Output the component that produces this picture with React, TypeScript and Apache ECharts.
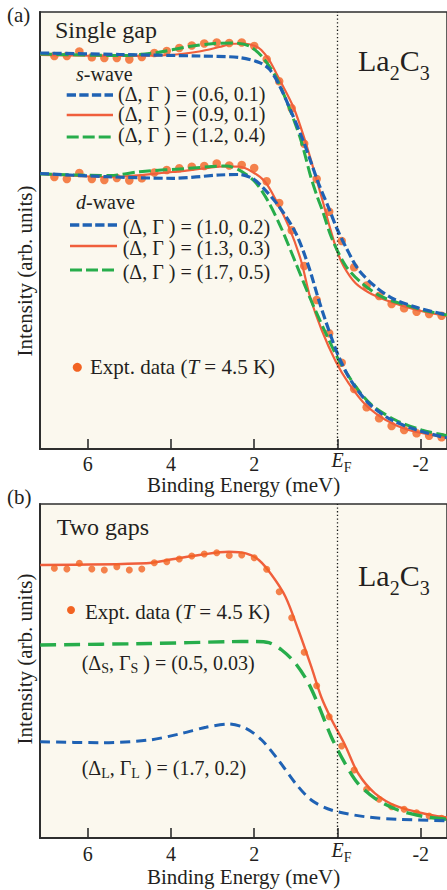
import React, { useEffect, useRef } from "react";
import * as echarts from "echarts";

const FONT = "'Liberation Serif', 'Times New Roman', serif";
const TEXT = "#231f20";
const AXIS = "#2e2e2e";
const BG = "#fbf8ee";
const BLUE = "#1f62b4";
const RED = "#f05f3c";
const DOT = "#f26322";
const GREEN = "#27ad4b";

const X_MIN = -2.63;
const X_MAX = 7.145;
const TICKS = [6, 4, 2, 0, -2];

// binding energies (meV) of experimental points
const ENERGY_EXPT = [6.8, 6.5, 6.2, 5.9, 5.6, 5.3, 5.0, 4.7, 4.4, 4.1, 3.8, 3.5, 3.2, 2.9, 2.6, 2.3, 2.0, 1.7, 1.4, 1.1, 0.8, 0.5, 0.2, -0.1, -0.4, -0.7, -1.0, -1.3, -1.6, -1.9, -2.2, -2.5];

// (a) single gap, experimental intensities (arb. units)
const S_WAVE_EXPT = [393, 393, 397.5, 391.7, 391, 391, 389.5, 392, 396, 398, 401, 403.5, 405.5, 406.5, 406, 406.5, 403, 389.7, 367.7, 340.7, 305.3, 270, 237.3, 208, 181.7, 163.5, 153, 145, 140.7, 137.3, 135, 133.3];
const D_WAVE_EXPT = [272, 270, 276, 270, 269, 271, 268.5, 270.7, 276.5, 279, 280.7, 282.3, 283, 285.5, 283.5, 284, 281, 267.7, 246, 218.7, 183, 149, 115.7, 86.3, 60, 41.7, 30.7, 23, 19, 15.7, 13.3, 11.7];

// (a) s-wave fits [E, I]
const S_FIT_06_01 = [[7.14, 396], [5.23, 394.5], [3.32, 393], [2.36, 391.5], [1.88, 386.5], [1.64, 380], [1.4, 364], [1.12, 338], [0.83, 309], [0.63, 286], [0.45, 265], [0.21, 241], [0.02, 221], [-0.2, 202], [-0.51, 179], [-0.92, 162], [-1.35, 150], [-1.95, 141], [-2.63, 134]];
const S_FIT_09_01 = [[7.14, 394], [5.23, 393], [4.04, 394], [3.32, 397.5], [2.84, 402], [2.55, 405], [2.24, 405.5], [1.98, 403], [1.83, 399], [1.64, 389], [1.4, 370], [1.05, 341], [0.76, 306], [0.52, 272], [0.33, 244], [0.2, 224], [0.01, 198], [-0.15, 182.5], [-0.43, 166], [-0.75, 156.5], [-1.15, 149], [-1.63, 142.3], [-2.11, 137], [-2.63, 133]];
const S_FIT_12_04 = [[7.14, 395], [5.23, 393.5], [4.35, 396.3], [3.56, 402.5], [2.96, 405.5], [2.48, 406], [2.12, 403], [1.81, 392.3], [1.48, 372], [1.17, 342.3], [0.88, 309], [0.64, 272], [0.5, 254], [0.35, 237], [0.14, 211], [-0.2, 183], [-0.58, 166], [-1.06, 152.3], [-1.63, 144], [-2.11, 138.3], [-2.63, 134]];

// (a) d-wave fits [E, I]
const D_FIT_10_02 = [[7.14, 275.5], [5.54, 272.3], [3.96, 270.7], [2.84, 274], [2.36, 274.5], [2.05, 270.7], [1.81, 262.3], [1.4, 242.3], [1.0, 215.7], [0.69, 182.3], [0.45, 149], [0.21, 119], [-0.03, 92.3], [-0.34, 67.3], [-0.75, 45.7], [-1.23, 30.7], [-1.78, 20.7], [-2.5, 12.3], [-2.63, 11.5]];
const D_FIT_13_03 = [[7.14, 275], [5.47, 272], [3.96, 277], [3.32, 280], [2.77, 282.5], [2.36, 282.3], [2.05, 277.3], [1.74, 267.3], [1.48, 249], [1.17, 222.3], [0.88, 189], [0.66, 152.3], [0.38, 119], [0.04, 87.3], [-0.27, 65.7], [-0.68, 44], [-1.16, 29], [-1.71, 19], [-2.5, 12.3], [-2.63, 12]];
const D_FIT_17_05 = [[7.14, 275], [5.47, 273.5], [4.75, 277.3], [3.56, 280.7], [2.67, 283], [2.29, 277.3], [1.95, 265.7], [1.64, 245.7], [1.33, 219], [1.0, 185.7], [0.66, 151], [0.28, 115.7], [-0.03, 89], [-0.44, 62.3], [-0.82, 44], [-1.39, 29], [-2.02, 19], [-2.63, 13.3]];

// (b) two gaps
const TWO_GAP_EXPT = [269.7, 269, 274.7, 269, 268, 271.3, 268, 269, 275.3, 276.3, 279, 282, 284, 285.3, 282.5, 283, 280.3, 268.7, 246.3, 220.3, 185.7, 152.3, 121.3, 92, 68, 48.7, 38.7, 31.3, 28.7, 25.3, 22, 19.7];
const TWO_GAP_FIT = [[7.14, 273], [4.59, 274.7], [3.97, 278.7], [3.32, 283], [2.61, 286.3], [2.2, 284.7], [1.89, 278], [1.58, 263], [1.25, 241.3], [0.94, 208], [0.63, 171.3], [0.39, 141], [0.15, 119], [-0.18, 93], [-0.49, 65], [-0.9, 44.7], [-1.45, 31.3], [-2.24, 23], [-2.63, 20.5]];
const SMALL_GAP_FIT = [[7.14, 193], [4.52, 194.5], [2.61, 196.3], [2.01, 196.5], [1.65, 195.3], [1.34, 188], [1.01, 174.7], [0.7, 155], [0.46, 133], [0.15, 101.3], [-0.18, 74.7], [-0.49, 54.7], [-0.9, 39.7], [-1.45, 28], [-2.09, 21.3], [-2.63, 18.7]];
const LARGE_GAP_FIT = [[7.14, 96.3], [5.71, 95.3], [4.52, 98], [3.73, 104.7], [3.16, 110.7], [2.61, 114], [2.2, 109.7], [1.82, 98], [1.42, 78], [1.01, 54.7], [0.63, 38], [0.15, 28], [-0.66, 21.3], [-1.45, 18.7], [-2.63, 17.3]];

const legendRich = (size: number, sub: number) => ({
  m: { fontFamily: FONT, fontSize: size, fill: TEXT, verticalAlign: "top", lineHeight: 26, padding: [3, 0, 0, 0] },
  i: { fontFamily: FONT, fontSize: size, fill: TEXT, fontStyle: "italic", verticalAlign: "top", lineHeight: 26, padding: [3, 0, 0, 0] },
  s: { fontFamily: FONT, fontSize: sub, fill: TEXT, verticalAlign: "top", lineHeight: 26, padding: [11.5, 0, 0, 0] },
});

const formulaRich = {
  m: { fontFamily: FONT, fontSize: 30, fill: TEXT, verticalAlign: "top", lineHeight: 46, padding: [8, 0, 0, 0] },
  s: { fontFamily: FONT, fontSize: 20, fill: TEXT, verticalAlign: "top", lineHeight: 46, padding: [26, 0, 0, 0] },
};

function txt(x: number, y: number, text: string, fontSize: number, extra: any = {}) {
  return {
    type: "text",
    x,
    y,
    z: 100,
    style: { text, fontFamily: FONT, fontSize, fill: TEXT, align: "left", verticalAlign: "middle", ...extra },
  };
}
function richTxt(x: number, y: number, text: string, rich: any, extra: any = {}) {
  return {
    type: "text",
    x,
    y,
    z: 100,
    style: { text, fontFamily: FONT, fill: TEXT, align: "left", verticalAlign: "middle", rich, ...extra },
  };
}
function seg(x1: number, x2: number, y: number, stroke: string, lineWidth: number, lineDash?: number[]) {
  return {
    type: "line",
    z: 100,
    shape: { x1, y1: y, x2, y2: y },
    style: { stroke, lineWidth, lineDash: lineDash || null },
  };
}

const tickRich = {
  n: { fontFamily: FONT, fontSize: 20, color: TEXT, verticalAlign: "top", lineHeight: 24, padding: [4, 0, 0, 0] },
  e: { fontFamily: FONT, fontSize: 20, color: TEXT, fontStyle: "italic", verticalAlign: "top", lineHeight: 24, padding: [0, 0, 0, 8] },
  f: { fontFamily: FONT, fontSize: 14, color: TEXT, verticalAlign: "top", lineHeight: 24, padding: [10, 0, 0, 0] },
};

function xAxis(gridIndex: number, margin: number, nameGap: number) {
  return {
    type: "value",
    gridIndex,
    inverse: true,
    min: X_MIN,
    max: X_MAX,
    name: "Binding Energy (meV)",
    nameLocation: "middle",
    nameGap,
    nameMoveOverlap: false,
    nameTextStyle: { fontFamily: FONT, fontSize: 21, color: TEXT, lineHeight: 16 },
    axisLine: { show: true, onZero: false, lineStyle: { color: AXIS, width: 2 } },
    axisTick: { show: true, inside: true, length: 10, customValues: TICKS, lineStyle: { color: AXIS, width: 1.6 } },
    axisLabel: {
      show: true,
      customValues: TICKS,
      margin,
      formatter: (v: number) => (v === 0 ? "{e|E}{f|F}" : `{n|${v}}`),
      rich: tickRich,
    },
    splitLine: { show: false },
  };
}
function yAxis(gridIndex: number, max: number) {
  return {
    type: "value",
    gridIndex,
    min: 0,
    max,
    axisLine: { show: true, onZero: false, lineStyle: { color: AXIS, width: 2 } },
    axisTick: { show: false },
    axisLabel: { show: false },
    splitLine: { show: false },
  };
}

function fit(data: number[][], grid: number, color: string, width: number, dash: number[] | "solid", z = 3) {
  return {
    type: "line",
    xAxisIndex: grid,
    yAxisIndex: grid,
    data,
    smooth: 0.3,
    symbol: "none",
    showSymbol: false,
    silent: true,
    z,
    lineStyle: { color, width, type: dash, cap: "butt" },
  };
}
function dots(values: number[], grid: number, size: number) {
  return {
    type: "scatter",
    xAxisIndex: grid,
    yAxisIndex: grid,
    data: ENERGY_EXPT.map((e, i) => [e, values[i]]),
    symbol: "circle",
    symbolSize: size,
    itemStyle: { color: DOT },
    silent: true,
    z: 2,
  };
}
const efLine = {
  silent: true,
  symbol: ["none", "none"],
  label: { show: false },
  lineStyle: { color: "#1a1a1a", width: 1.3, type: [1.3, 2.4] },
  data: [{ xAxis: 0 }],
};

export default function App() {
  const ref = useRef<HTMLDivElement>(null);
  useEffect(() => {
    const chart = echarts.init(ref.current as HTMLDivElement, null, { renderer: "svg" });
    const lr = legendRich(20, 14);
    const option: any = {
      animation: false,
      backgroundColor: "#ffffff",
      grid: [
        { left: 40, top: 12, width: 409, height: 437, show: true, backgroundColor: BG, borderColor: AXIS, borderWidth: 1.5 },
        { left: 40, top: 504, width: 409, height: 334, show: true, backgroundColor: BG, borderColor: AXIS, borderWidth: 1.5 },
      ],
      xAxis: [xAxis(0, 1, 28), xAxis(1, 2, 31)],
      yAxis: [yAxis(0, 437), yAxis(1, 334)],
      series: [
        { ...dots(S_WAVE_EXPT, 0, 8.5), markLine: efLine },
        dots(D_WAVE_EXPT, 0, 8.5),
        fit(S_FIT_09_01, 0, RED, 2.2, "solid"),
        fit(S_FIT_12_04, 0, GREEN, 3, [12, 4.5]),
        fit(S_FIT_06_01, 0, BLUE, 3.2, [9, 3.6]),
        fit(D_FIT_13_03, 0, RED, 2.2, "solid"),
        fit(D_FIT_17_05, 0, GREEN, 3, [12, 4.5]),
        fit(D_FIT_10_02, 0, BLUE, 3.2, [9, 3.6]),
        { ...dots(TWO_GAP_EXPT, 1, 7), markLine: efLine },
        fit(SMALL_GAP_FIT, 1, GREEN, 3.4, [16, 8]),
        fit(LARGE_GAP_FIT, 1, BLUE, 3, [10, 6]),
        fit(TWO_GAP_FIT, 1, RED, 2.4, "solid", 1),
      ],
      graphic: [
        txt(7, 15, "(a)", 21),
        txt(7, 497, "(b)", 21),
        txt(25, 271, "Intensity (arb. units)", 21, { align: "center" }),
        txt(25, 659, "Intensity (arb. units)", 21, { align: "center" }),
        // panel (a)
        txt(55, 30, "Single gap", 24),
        richTxt(358, 60, "{m|La}{s|2}{m|C}{s|3}", formulaRich),
        richTxt(76, 73.5, "{i|s}{m|-wave}", lr),
        seg(66.7, 113, 95, BLUE, 3.3, [9.3, 3.3]),
        seg(66.7, 113, 115, RED, 2.6),
        seg(66.7, 113, 137, GREEN, 3, [12, 4]),
        txt(118, 94, "(Δ, Γ ) = (0.6, 0.1)", 20),
        txt(118, 114, "(Δ, Γ ) = (0.9, 0.1)", 20),
        txt(118, 135, "(Δ, Γ ) = (1.2, 0.4)", 20),
        richTxt(76, 201.7, "{i|d}{m|-wave}", lr),
        seg(70, 117, 225, BLUE, 3.3, [9.3, 3.3]),
        seg(70, 117, 246, RED, 2.6),
        seg(70, 117, 270, GREEN, 3, [12, 4]),
        txt(122.7, 226.7, "(Δ, Γ ) = (1.0, 0.2)", 20),
        txt(122.7, 248.4, "(Δ, Γ ) = (1.3, 0.3)", 20),
        txt(122.7, 271.7, "(Δ, Γ ) = (1.7, 0.5)", 20),
        { type: "circle", z: 100, shape: { cx: 77.3, cy: 367.3, r: 4.5 }, style: { fill: DOT } },
        richTxt(90, 366.5, "{m|Expt. data (}{i|T}{m| = 4.5 K)}", legendRich(21, 14)),
        // panel (b)
        txt(56.7, 527, "Two gaps", 24),
        richTxt(358, 575, "{m|La}{s|2}{m|C}{s|3}", formulaRich),
        { type: "circle", z: 100, shape: { cx: 71, cy: 610, r: 4 }, style: { fill: DOT } },
        richTxt(85, 611, "{m|Expt. data (}{i|T}{m| = 4.5 K)}", legendRich(21, 14)),
        richTxt(81.7, 663.4, "{m|(Δ}{s|S}{m|, Γ}{s|S}{m| ) = (0.5, 0.03)}", lr),
        richTxt(81.7, 768.4, "{m|(Δ}{s|L}{m|, Γ}{s|L}{m| ) = (1.7, 0.2)}", lr),
      ],
    };
    option.graphic[2].rotation = Math.PI / 2;
    option.graphic[3].rotation = Math.PI / 2;
    chart.setOption(option);
    return () => chart.dispose();
  }, []);
  return <div ref={ref} style={{ position: "absolute", left: 0, top: 0, width: 447, height: 890 }} />;
}
